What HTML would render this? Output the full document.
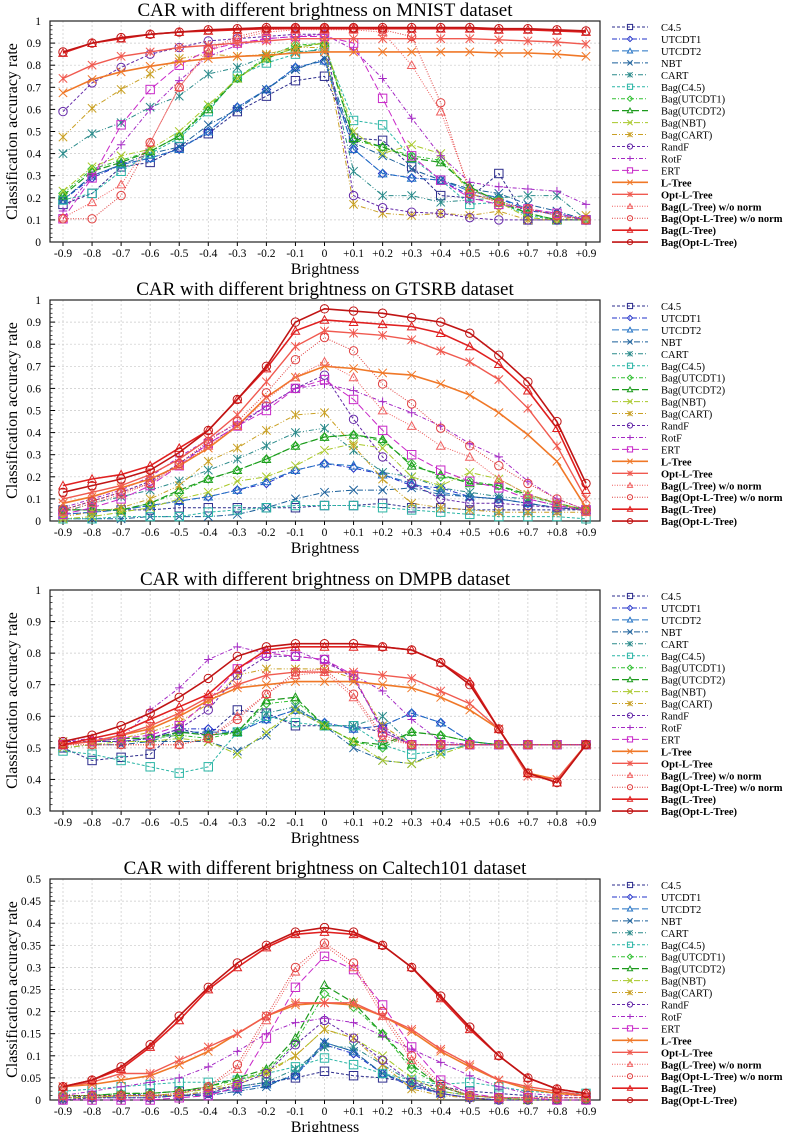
<!DOCTYPE html>
<html><head><meta charset="utf-8">
<style>
body{margin:0;background:#fff;}
svg{display:block;font-family:"Liberation Serif",serif;}
</style></head>
<body>
<svg id="chart" width="785" height="1132" viewBox="0 0 785 1132" xmlns="http://www.w3.org/2000/svg"></svg>
<script>
const categories=["-0.9","-0.8","-0.7","-0.6","-0.5","-0.4","-0.3","-0.2","-0.1","0","+0.1","+0.2","+0.3","+0.4","+0.5","+0.6","+0.7","+0.8","+0.9"];
const seriesNames=["C4.5","UTCDT1","UTCDT2","NBT","CART","Bag(C4.5)","Bag(UTCDT1)","Bag(UTCDT2)","Bag(NBT)","Bag(CART)","RandF","RotF","ERT","L-Tree","Opt-L-Tree","Bag(L-Tree) w/o norm","Bag(Opt-L-Tree) w/o norm","Bag(L-Tree)","Bag(Opt-L-Tree)"];
const datasetNames=["MNIST","GTSRB","DMPB","Caltech101"];
const yMinVals=[0,0,0.3,0];
const yMaxVals=[1,1,1,0.5];
const yTickSteps=[0.1,0.1,0.1,0.05];

const mnist=[
[0.17,0.22,0.34,0.36,0.43,0.49,0.59,0.66,0.73,0.75,0.47,0.46,0.34,0.21,0.20,0.31,0.10,0.10,0.10],
[0.19,0.29,0.35,0.38,0.42,0.50,0.61,0.69,0.79,0.82,0.42,0.31,0.29,0.28,0.21,0.20,0.14,0.13,0.10],
[0.19,0.30,0.35,0.38,0.42,0.50,0.61,0.69,0.79,0.82,0.42,0.31,0.29,0.28,0.23,0.20,0.15,0.12,0.10],
[0.19,0.30,0.35,0.40,0.43,0.53,0.60,0.69,0.78,0.83,0.45,0.39,0.33,0.28,0.24,0.22,0.17,0.14,0.10],
[0.40,0.49,0.54,0.61,0.66,0.76,0.79,0.84,0.86,0.87,0.32,0.21,0.21,0.18,0.19,0.20,0.21,0.21,0.10],
[0.19,0.22,0.32,0.40,0.47,0.59,0.75,0.81,0.85,0.88,0.55,0.53,0.38,0.28,0.17,0.18,0.12,0.10,0.10],
[0.22,0.33,0.37,0.41,0.48,0.61,0.74,0.84,0.89,0.90,0.46,0.43,0.39,0.37,0.24,0.19,0.13,0.10,0.10],
[0.21,0.32,0.36,0.41,0.48,0.60,0.74,0.83,0.88,0.90,0.47,0.43,0.38,0.36,0.25,0.18,0.13,0.10,0.10],
[0.23,0.34,0.39,0.42,0.50,0.62,0.74,0.83,0.88,0.90,0.50,0.40,0.44,0.40,0.22,0.18,0.11,0.10,0.10],
[0.475,0.605,0.69,0.76,0.83,0.85,0.84,0.85,0.88,0.88,0.17,0.13,0.12,0.13,0.12,0.14,0.10,0.10,0.12],
[0.59,0.72,0.79,0.85,0.88,0.91,0.92,0.93,0.94,0.94,0.21,0.155,0.135,0.13,0.11,0.10,0.10,0.10,0.10],
[0.14,0.30,0.44,0.60,0.73,0.84,0.89,0.92,0.93,0.94,0.87,0.74,0.56,0.39,0.27,0.25,0.24,0.23,0.17],
[0.105,0.29,0.53,0.69,0.80,0.87,0.90,0.92,0.93,0.93,0.90,0.65,0.39,0.28,0.20,0.17,0.15,0.13,0.10],
[0.675,0.735,0.77,0.795,0.815,0.83,0.84,0.845,0.855,0.86,0.86,0.86,0.86,0.86,0.86,0.855,0.855,0.85,0.84],
[0.74,0.80,0.84,0.86,0.88,0.89,0.90,0.91,0.92,0.92,0.92,0.92,0.92,0.92,0.92,0.915,0.91,0.905,0.895],
[0.11,0.18,0.26,0.45,0.70,0.86,0.92,0.95,0.96,0.96,0.96,0.95,0.80,0.59,0.24,0.18,0.15,0.12,0.10],
[0.105,0.105,0.21,0.45,0.70,0.87,0.93,0.96,0.965,0.965,0.965,0.96,0.93,0.63,0.22,0.18,0.15,0.12,0.10],
[0.855,0.90,0.92,0.94,0.95,0.955,0.96,0.965,0.965,0.965,0.965,0.965,0.965,0.965,0.965,0.96,0.96,0.955,0.95],
[0.86,0.90,0.925,0.94,0.95,0.96,0.965,0.97,0.97,0.97,0.97,0.97,0.97,0.97,0.97,0.965,0.965,0.96,0.955]];
const gtsrb=[
[0.05,0.05,0.05,0.05,0.06,0.06,0.06,0.06,0.06,0.07,0.07,0.08,0.06,0.06,0.05,0.05,0.05,0.05,0.05],
[0.03,0.04,0.05,0.07,0.09,0.11,0.14,0.17,0.23,0.26,0.24,0.21,0.16,0.15,0.11,0.10,0.08,0.06,0.05],
[0.03,0.04,0.05,0.07,0.09,0.11,0.14,0.18,0.23,0.26,0.25,0.21,0.17,0.13,0.11,0.10,0.08,0.06,0.05],
[0.01,0.01,0.01,0.02,0.02,0.02,0.03,0.06,0.10,0.13,0.14,0.14,0.15,0.12,0.11,0.10,0.08,0.06,0.05],
[0.04,0.08,0.11,0.14,0.18,0.23,0.28,0.34,0.40,0.42,0.32,0.22,0.20,0.15,0.13,0.11,0.10,0.07,0.05],
[0.01,0.01,0.02,0.02,0.02,0.04,0.05,0.06,0.07,0.07,0.07,0.06,0.05,0.04,0.03,0.02,0.02,0.02,0.01],
[0.05,0.05,0.05,0.08,0.13,0.19,0.23,0.28,0.34,0.38,0.39,0.36,0.26,0.20,0.18,0.16,0.11,0.08,0.05],
[0.05,0.05,0.05,0.08,0.14,0.19,0.23,0.28,0.34,0.38,0.39,0.37,0.25,0.21,0.17,0.16,0.12,0.08,0.05],
[0.01,0.02,0.04,0.06,0.10,0.13,0.18,0.20,0.25,0.32,0.35,0.33,0.20,0.16,0.22,0.19,0.12,0.08,0.05],
[0.02,0.04,0.06,0.10,0.16,0.27,0.33,0.41,0.48,0.49,0.34,0.19,0.08,0.06,0.05,0.04,0.04,0.04,0.04],
[0.05,0.09,0.13,0.18,0.26,0.35,0.43,0.52,0.60,0.66,0.46,0.29,0.17,0.10,0.08,0.08,0.07,0.06,0.05],
[0.06,0.10,0.14,0.20,0.29,0.37,0.44,0.52,0.60,0.62,0.59,0.54,0.49,0.43,0.35,0.29,0.18,0.10,0.05],
[0.03,0.06,0.10,0.16,0.25,0.35,0.43,0.50,0.60,0.64,0.55,0.41,0.30,0.23,0.18,0.15,0.10,0.07,0.05],
[0.08,0.11,0.15,0.19,0.25,0.33,0.43,0.56,0.65,0.70,0.69,0.67,0.66,0.62,0.57,0.49,0.39,0.27,0.06],
[0.10,0.13,0.16,0.21,0.28,0.37,0.48,0.63,0.79,0.86,0.85,0.84,0.82,0.77,0.72,0.64,0.51,0.34,0.10],
[0.04,0.08,0.12,0.17,0.25,0.34,0.43,0.55,0.65,0.72,0.65,0.50,0.43,0.34,0.29,0.19,0.12,0.08,0.04],
[0.05,0.09,0.13,0.17,0.26,0.36,0.45,0.58,0.73,0.83,0.77,0.62,0.53,0.42,0.34,0.25,0.17,0.10,0.05],
[0.16,0.19,0.21,0.25,0.33,0.41,0.55,0.69,0.86,0.91,0.90,0.89,0.88,0.85,0.79,0.71,0.59,0.42,0.14],
[0.13,0.16,0.19,0.23,0.31,0.41,0.55,0.70,0.90,0.96,0.95,0.94,0.92,0.90,0.85,0.75,0.63,0.45,0.17]];
const dmpb=[
[0.50,0.46,0.47,0.48,0.56,0.54,0.62,0.61,0.57,0.57,0.57,0.55,0.51,0.51,0.51,0.51,0.51,0.51,0.51],
[0.51,0.52,0.52,0.53,0.56,0.56,0.55,0.59,0.62,0.58,0.56,0.57,0.61,0.58,0.52,0.51,0.51,0.51,0.51],
[0.51,0.52,0.52,0.53,0.55,0.55,0.55,0.59,0.62,0.58,0.56,0.57,0.61,0.58,0.52,0.51,0.51,0.51,0.51],
[0.50,0.51,0.51,0.52,0.52,0.52,0.49,0.54,0.62,0.57,0.50,0.46,0.45,0.49,0.51,0.51,0.51,0.51,0.51],
[0.52,0.52,0.52,0.52,0.55,0.54,0.55,0.61,0.63,0.57,0.57,0.60,0.51,0.51,0.51,0.51,0.51,0.51,0.51],
[0.49,0.48,0.46,0.44,0.42,0.44,0.55,0.60,0.58,0.57,0.57,0.51,0.48,0.49,0.51,0.51,0.51,0.51,0.51],
[0.51,0.52,0.53,0.53,0.54,0.53,0.55,0.64,0.65,0.57,0.52,0.50,0.55,0.54,0.52,0.51,0.51,0.51,0.51],
[0.51,0.52,0.53,0.53,0.55,0.54,0.55,0.65,0.66,0.57,0.52,0.51,0.55,0.54,0.52,0.51,0.51,0.51,0.51],
[0.50,0.51,0.52,0.52,0.53,0.52,0.48,0.55,0.62,0.57,0.52,0.46,0.45,0.48,0.51,0.51,0.51,0.51,0.51],
[0.52,0.52,0.53,0.55,0.58,0.64,0.73,0.75,0.75,0.75,0.72,0.57,0.51,0.51,0.51,0.51,0.51,0.51,0.51],
[0.52,0.52,0.52,0.53,0.56,0.62,0.73,0.79,0.79,0.78,0.72,0.56,0.51,0.51,0.51,0.51,0.51,0.51,0.51],
[0.52,0.53,0.53,0.62,0.69,0.78,0.82,0.80,0.81,0.77,0.73,0.68,0.59,0.52,0.51,0.51,0.51,0.51,0.51],
[0.51,0.52,0.53,0.54,0.57,0.65,0.75,0.80,0.79,0.78,0.73,0.55,0.51,0.51,0.51,0.51,0.51,0.51,0.51],
[0.51,0.52,0.54,0.56,0.60,0.65,0.69,0.70,0.71,0.71,0.71,0.70,0.69,0.66,0.62,0.56,0.42,0.40,0.51],
[0.51,0.52,0.54,0.57,0.61,0.66,0.70,0.73,0.74,0.74,0.74,0.73,0.72,0.68,0.64,0.56,0.41,0.40,0.51],
[0.51,0.51,0.51,0.51,0.51,0.53,0.60,0.67,0.73,0.74,0.66,0.53,0.51,0.51,0.51,0.51,0.51,0.51,0.51],
[0.51,0.51,0.51,0.51,0.51,0.53,0.59,0.67,0.74,0.75,0.67,0.54,0.51,0.51,0.51,0.51,0.51,0.51,0.51],
[0.51,0.53,0.55,0.59,0.63,0.67,0.75,0.81,0.82,0.82,0.82,0.82,0.81,0.77,0.71,0.56,0.42,0.39,0.51],
[0.52,0.54,0.57,0.61,0.66,0.72,0.79,0.82,0.83,0.83,0.83,0.82,0.81,0.77,0.70,0.56,0.42,0.39,0.51]];
const caltech=[
[0.005,0.01,0.01,0.015,0.02,0.025,0.03,0.04,0.05,0.065,0.055,0.05,0.04,0.03,0.02,0.015,0.01,0.005,0.005],
[0.005,0.005,0.01,0.01,0.01,0.015,0.025,0.035,0.055,0.125,0.105,0.06,0.03,0.015,0.005,0,0,0,0],
[0.005,0.005,0.01,0.01,0.01,0.015,0.025,0.035,0.055,0.13,0.11,0.06,0.035,0.015,0.005,0,0,0,0],
[0.005,0.005,0.005,0.005,0.01,0.01,0.02,0.03,0.06,0.13,0.11,0.06,0.035,0.015,0.005,0,0,0,0],
[0.005,0.005,0.01,0.01,0.01,0.02,0.03,0.04,0.07,0.12,0.12,0.08,0.04,0.02,0.01,0.005,0.005,0,0],
[0.02,0.025,0.03,0.035,0.04,0.04,0.045,0.06,0.075,0.095,0.08,0.06,0.045,0.035,0.04,0.03,0.02,0.015,0.015],
[0.01,0.01,0.015,0.015,0.02,0.03,0.045,0.065,0.13,0.24,0.21,0.15,0.07,0.03,0.01,0.005,0,0,0],
[0.01,0.01,0.015,0.015,0.02,0.03,0.05,0.07,0.14,0.26,0.22,0.15,0.08,0.03,0.01,0.005,0,0,0],
[0.005,0.005,0.01,0.01,0.015,0.025,0.04,0.065,0.10,0.16,0.14,0.10,0.05,0.02,0.01,0.005,0,0,0],
[0.005,0.005,0.01,0.01,0.01,0.02,0.035,0.06,0.10,0.16,0.14,0.08,0.025,0.01,0.005,0,0,0,0],
[0,0.005,0.005,0.005,0.01,0.015,0.035,0.06,0.125,0.18,0.14,0.09,0.04,0.015,0.005,0,0,0,0],
[0.01,0.02,0.03,0.04,0.05,0.075,0.11,0.15,0.175,0.185,0.175,0.145,0.115,0.085,0.055,0.03,0.015,0.01,0.01],
[0,0,0,0,0.005,0.01,0.03,0.14,0.255,0.325,0.295,0.215,0.12,0.045,0.015,0.005,0.005,0,0],
[0.03,0.035,0.045,0.055,0.08,0.11,0.15,0.19,0.215,0.22,0.215,0.19,0.155,0.11,0.075,0.045,0.025,0.015,0.01],
[0.03,0.04,0.06,0.06,0.09,0.12,0.15,0.19,0.22,0.22,0.22,0.19,0.16,0.115,0.08,0.045,0.03,0.02,0.01],
[0.01,0.01,0.01,0.01,0.015,0.03,0.07,0.18,0.29,0.35,0.30,0.19,0.09,0.03,0.01,0.005,0.005,0.005,0.005],
[0.01,0.01,0.01,0.01,0.015,0.03,0.08,0.19,0.30,0.355,0.31,0.20,0.10,0.035,0.01,0.005,0.005,0.005,0.005],
[0.03,0.045,0.07,0.12,0.18,0.25,0.30,0.345,0.375,0.38,0.375,0.35,0.30,0.23,0.16,0.10,0.05,0.025,0.015],
[0.03,0.045,0.075,0.125,0.19,0.255,0.31,0.35,0.38,0.39,0.38,0.35,0.30,0.235,0.165,0.10,0.05,0.025,0.015]];
const allData=[mnist,gtsrb,dmpb,caltech];

const NS="http://www.w3.org/2000/svg";
const svg=document.getElementById('chart');
const styles=[
{c:"#2b2b8c",d:"3,2",m:"sq",w:1},
{c:"#2030c8",d:"5,2,1,2",m:"di",w:1},
{c:"#2272c4",d:"7,3",m:"tri",w:1},
{c:"#1a5f9a",d:"6,2,1,2",m:"x",w:1},
{c:"#2a8a8a",d:"5,2,1,2,1,2",m:"ast",w:1},
{c:"#2ab5a5",d:"3,2",m:"sq",w:1},
{c:"#33c033",d:"4,2,1,2",m:"di",w:1},
{c:"#1c9a1c",d:"7,3",m:"tri",w:1.2},
{c:"#a8c828",d:"6,2,1,2",m:"x",w:1},
{c:"#c9a024",d:"5,2,1,2,1,2",m:"ast",w:1},
{c:"#6428a8",d:"3,2",m:"ci",w:1},
{c:"#a428c4",d:"4,2,1,2",m:"plus",w:1},
{c:"#c828c8",d:"7,3",m:"sq",w:1},
{c:"#f07828",d:"",m:"x",w:1.6},
{c:"#f05a50",d:"",m:"ast",w:1.4},
{c:"#f06060",d:"1,1.5",m:"tri",w:1},
{c:"#e04040",d:"1,1.5",m:"ci",w:1},
{c:"#e02020",d:"",m:"tri",w:1.6},
{c:"#c01414",d:"",m:"ci",w:1.6}];
const boldSet=[13,14,15,16,17,18];

function el(tag,attrs,parent){const e=document.createElementNS(NS,tag);for(const k in attrs)e.setAttribute(k,attrs[k]);(parent||svg).appendChild(e);return e;}
function marker(g,type,x,y,c,r){
  const a={fill:"none",stroke:c,"stroke-width":1};
  if(type==="sq")el('rect',Object.assign({x:x-r,y:y-r,width:2*r,height:2*r},a),g);
  else if(type==="ci")el('circle',Object.assign({cx:x,cy:y,r:r},a),g);
  else if(type==="tri")el('path',Object.assign({d:`M${x},${y-r}L${x+r},${y+r*0.8}L${x-r},${y+r*0.8}Z`},a),g);
  else if(type==="di")el('path',Object.assign({d:`M${x},${y-r}L${x+r},${y}L${x},${y+r}L${x-r},${y}Z`},a),g);
  else if(type==="x")el('path',Object.assign({d:`M${x-r},${y-r}L${x+r},${y+r}M${x-r},${y+r}L${x+r},${y-r}`},a),g);
  else if(type==="plus")el('path',Object.assign({d:`M${x-r},${y}L${x+r},${y}M${x},${y-r}L${x},${y+r}`},a),g);
  else if(type==="ast")el('path',Object.assign({d:`M${x-r},${y-r}L${x+r},${y+r}M${x-r},${y+r}L${x+r},${y-r}M${x},${y-r}L${x},${y+r}`},a),g);
}
const panelTops=[21,300,590,879];
const X0=50,X1=600,PH=221;
function xScale(i){return 63+i*(586-63)/(categories.length-1);}

allData.forEach((data,p)=>{
  const top=panelTops[p],bot=top+PH,ymin=yMinVals[p],ymax=yMaxVals[p],step=yTickSteps[p];
  const yScale=v=>bot-(v-ymin)/(ymax-ymin)*PH;
  const g=el('g',{});
  
  
  const t=el('text',{x:325,y:top-5,"text-anchor":"middle","font-size":"19"},g);
  t.textContent="CAR with different brightness on "+datasetNames[p]+" dataset";
  
  
  const nT=Math.round((ymax-ymin)/step);
  for(let k=0;k<=nT;k++){
    const v=ymin+k*step,y=yScale(v);
    el('line',{x1:X0,x2:X1,y1:y,y2:y,stroke:"#c8c8c8","stroke-dasharray":"2,2","stroke-width":0.7},g);
    el('line',{x1:X0,x2:X0+5,y1:y,y2:y,stroke:"#000"},g);
    if(k<nT)for(let m=1;m<5;m++){const ym=yScale(v+step*m/5);el('line',{x1:X0,x2:X0+2.5,y1:ym,y2:ym,stroke:"#000","stroke-width":0.7},g);}
    const lt=el('text',{x:41,y:y+4,"text-anchor":"end","font-size":"11.5"},g);
    lt.textContent=(Math.round(v*100)/100).toString();
    
    
  }
  categories.forEach((c,i)=>{
    const x=xScale(i);
    el('line',{x1:x,x2:x,y1:top,y2:bot,stroke:"#c8c8c8","stroke-dasharray":"2,2","stroke-width":0.7},g);
    el('line',{x1:x,x2:x,y1:bot,y2:bot+4,stroke:"#000"},g);
    const lt=el('text',{x:x,y:bot+15,"text-anchor":"middle","font-size":"11.5"},g);
    lt.textContent=c;
    
    
  });
  const frame=el('rect',{x:X0,y:top,width:X1-X0,height:PH,fill:"none",stroke:"#222","stroke-width":1.2},g);
  
  
  const xt=el('text',{x:325,y:bot+32,"text-anchor":"middle","font-size":"16"},g);
  xt.textContent="Brightness";
  
  
  const yt=el('text',{x:0,y:0,"text-anchor":"middle","font-size":"16",transform:`translate(17,${top+PH/2}) rotate(-90)`},g);
  yt.textContent="Classification accuracy rate";
  
  
  data.forEach((vals,s)=>{
    const st=styles[s];
    const sg=el('g',{},g);
    
    
    const d=vals.map((v,i)=>(i?'L':'M')+xScale(i).toFixed(1)+','+yScale(v).toFixed(1)).join('');
    el('path',{d:d,fill:"none",stroke:st.c,"stroke-width":st.w,"stroke-dasharray":st.d},sg);
    vals.forEach((v,i)=>marker(sg,st.m,xScale(i),yScale(v),st.c,4.2));
  });
  const lg=el('g',{},g);
  
  
  seriesNames.forEach((n,s)=>{
    const st=styles[s],y=top+6+s*11.95;
    const eg=el('g',{},lg);
    
    
    el('line',{x1:612,x2:648,y1:y,y2:y,stroke:st.c,"stroke-width":st.w,"stroke-dasharray":st.d},eg);
    marker(eg,st.m,630,y,st.c,2.6);
    const tt=el('text',{x:661,y:y+4,"font-size":"10.5","font-weight":boldSet.includes(s)?"bold":"normal"},eg);
    tt.textContent=n;
  });
});
</script>
</body></html>
